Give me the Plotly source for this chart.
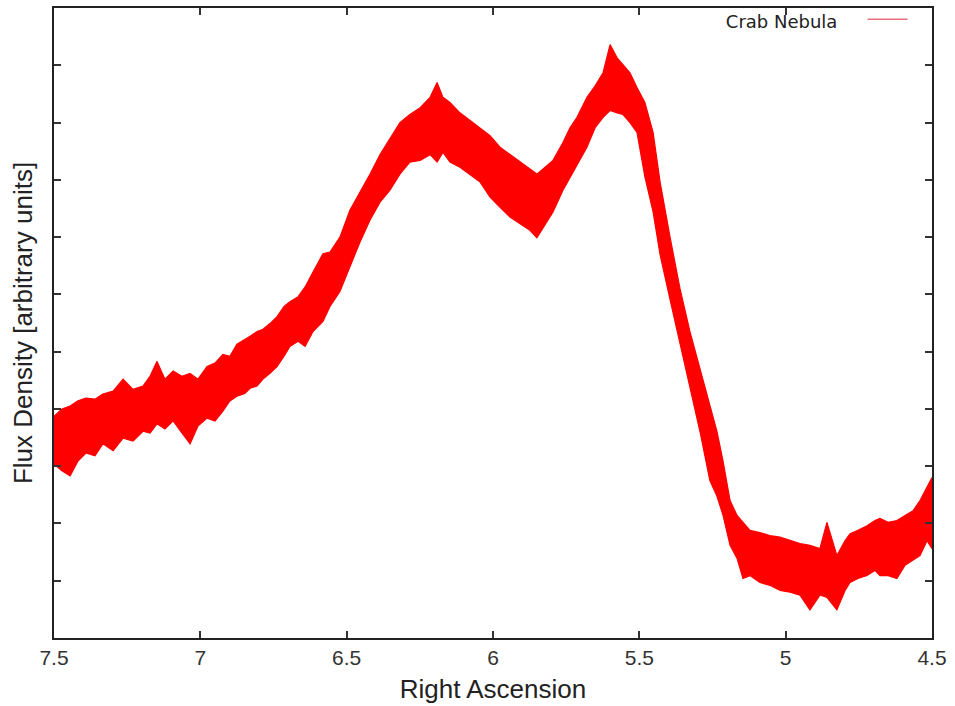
import plotly.graph_objects as go

# Right ascension sample positions
ra = [7.500, 7.473, 7.445, 7.418, 7.391, 7.360, 7.333, 7.298, 7.264, 7.230,
      7.196, 7.172, 7.148, 7.121, 7.093, 7.063, 7.035, 7.008, 6.977, 6.950,
      6.923, 6.899, 6.875, 6.848, 6.830, 6.806, 6.786, 6.762, 6.738, 6.714,
      6.694, 6.666, 6.642, 6.615, 6.581, 6.557, 6.523, 6.489, 6.454, 6.420,
      6.386, 6.352, 6.318, 6.284, 6.249, 6.215, 6.191, 6.171, 6.147, 6.113,
      6.079, 6.044, 6.010, 5.976, 5.942, 5.908, 5.874, 5.850, 5.822, 5.795,
      5.761, 5.737, 5.713, 5.679, 5.651, 5.624, 5.600, 5.576, 5.556, 5.532,
      5.508, 5.481, 5.453, 5.429, 5.395, 5.361, 5.327, 5.293, 5.259, 5.235,
      5.214, 5.190, 5.166, 5.146, 5.122, 5.088, 5.054, 5.019, 4.985, 4.951,
      4.917, 4.883, 4.859, 4.825, 4.797, 4.780, 4.753, 4.722, 4.695, 4.678,
      4.650, 4.620, 4.592, 4.565, 4.541, 4.517, 4.500]

# Upper edge of the noisy flux trace
flux_high = [3.87, 4.00, 4.05, 4.14, 4.19, 4.17, 4.26, 4.31, 4.52, 4.34,
             4.40, 4.57, 4.83, 4.52, 4.66, 4.57, 4.62, 4.52, 4.74, 4.80,
             4.95, 4.92, 5.13, 5.21, 5.27, 5.35, 5.39, 5.49, 5.61, 5.79,
             5.87, 5.96, 6.13, 6.39, 6.71, 6.74, 7.00, 7.47, 7.78, 8.10,
             8.44, 8.71, 9.00, 9.14, 9.26, 9.44, 9.70, 9.44, 9.35, 9.17,
             9.04, 8.91, 8.77, 8.57, 8.44, 8.31, 8.18, 8.10, 8.22, 8.34,
             8.65, 8.91, 9.09, 9.44, 9.64, 9.87, 10.36, 10.13, 10.01, 9.87,
             9.61, 9.35, 8.83, 7.96, 7.00, 6.10, 5.35, 4.71, 4.07, 3.61,
             3.09, 2.40, 2.14, 2.02, 1.88, 1.84, 1.79, 1.76, 1.70, 1.65,
             1.62, 1.56, 2.02, 1.44, 1.70, 1.82, 1.88, 1.96, 2.05, 2.09,
             2.02, 2.05, 2.14, 2.22, 2.40, 2.62, 2.80]

# Lower edge of the noisy flux trace
flux_low = [3.04, 2.92, 2.83, 3.09, 3.23, 3.18, 3.39, 3.27, 3.49, 3.44,
            3.61, 3.58, 3.74, 3.65, 3.79, 3.58, 3.39, 3.70, 3.84, 3.79,
            3.96, 4.14, 4.22, 4.27, 4.36, 4.40, 4.52, 4.62, 4.74, 4.92,
            5.09, 5.18, 5.09, 5.35, 5.53, 5.79, 6.05, 6.48, 6.92, 7.30,
            7.61, 7.82, 8.10, 8.31, 8.34, 8.44, 8.31, 8.48, 8.31, 8.22,
            8.10, 7.96, 7.70, 7.52, 7.35, 7.23, 7.12, 6.99, 7.23, 7.44,
            7.82, 8.05, 8.25, 8.57, 8.91, 9.09, 9.21, 9.17, 9.14, 9.00,
            8.83, 8.05, 7.44, 6.69, 5.91, 5.11, 4.36, 3.61, 2.75, 2.48,
            2.14, 1.62, 1.39, 1.04, 1.09, 0.97, 0.92, 0.83, 0.80, 0.75,
            0.49, 0.75, 0.71, 0.49, 0.83, 0.97, 1.04, 1.09, 1.18, 1.09,
            1.09, 1.04, 1.27, 1.36, 1.44, 1.70, 1.56]

x_ticks = [7.5, 7, 6.5, 6, 5.5, 5, 4.5]
x_tick_text = ["7.5", "7", "6.5", "6", "5.5", "5", "4.5"]
y_ticks = [1, 2, 3, 4, 5, 6, 7, 8, 9, 10]

RED = "#ff0000"

fig = go.Figure()

fig.add_trace(go.Scatter(
    x=ra + ra[::-1],
    y=flux_high + flux_low[::-1],
    mode="lines",
    fill="toself",
    fillcolor=RED,
    line=dict(color=RED, width=1.2),
    showlegend=False,
    hoverinfo="skip",
))

fig.add_trace(go.Scatter(
    x=[None], y=[None],
    mode="lines",
    name=" ",
    line=dict(color="#ee6f7c", width=1.5),
    showlegend=True,
))

axis_common = dict(
    showgrid=False,
    zeroline=False,
    showline=True,
    linecolor="#222222",
    linewidth=2,
    mirror="ticks",
    ticks="inside",
    ticklen=7,
    tickwidth=1.5,
    tickcolor="#333333",
)

fig.update_layout(
    width=955,
    height=706,
    margin=dict(l=54, r=23, t=5, b=68),
    paper_bgcolor="white",
    plot_bgcolor="white",
    font=dict(family="Liberation Sans, Arial, sans-serif", color="#222222"),
    xaxis=dict(
        range=[7.5, 4.5],
        tickmode="array",
        tickvals=x_ticks,
        ticktext=x_tick_text,
        tickfont=dict(size=21, color="#333333"),
        title=dict(text="Right Ascension", font=dict(size=26, color="#222222"), standoff=12),
        **axis_common,
    ),
    yaxis=dict(
        range=[0, 11],
        tickmode="array",
        tickvals=y_ticks,
        showticklabels=False,
        title=dict(text="Flux Density [arbitrary units]", font=dict(size=26, color="#222222"), standoff=12),
        **axis_common,
    ),
    legend=dict(
        x=0.985, xanchor="right",
        y=1.005, yanchor="top",
        bgcolor="rgba(0,0,0,0)",
        borderwidth=0,
        title=dict(text="Crab Nebula&nbsp;&nbsp;&nbsp;", side="left",
                   font=dict(size=18, family="DejaVu Sans, sans-serif", color="#222222")),
        font=dict(size=2),
        itemwidth=40,
    ),
)

fig.write_html("out.html")
